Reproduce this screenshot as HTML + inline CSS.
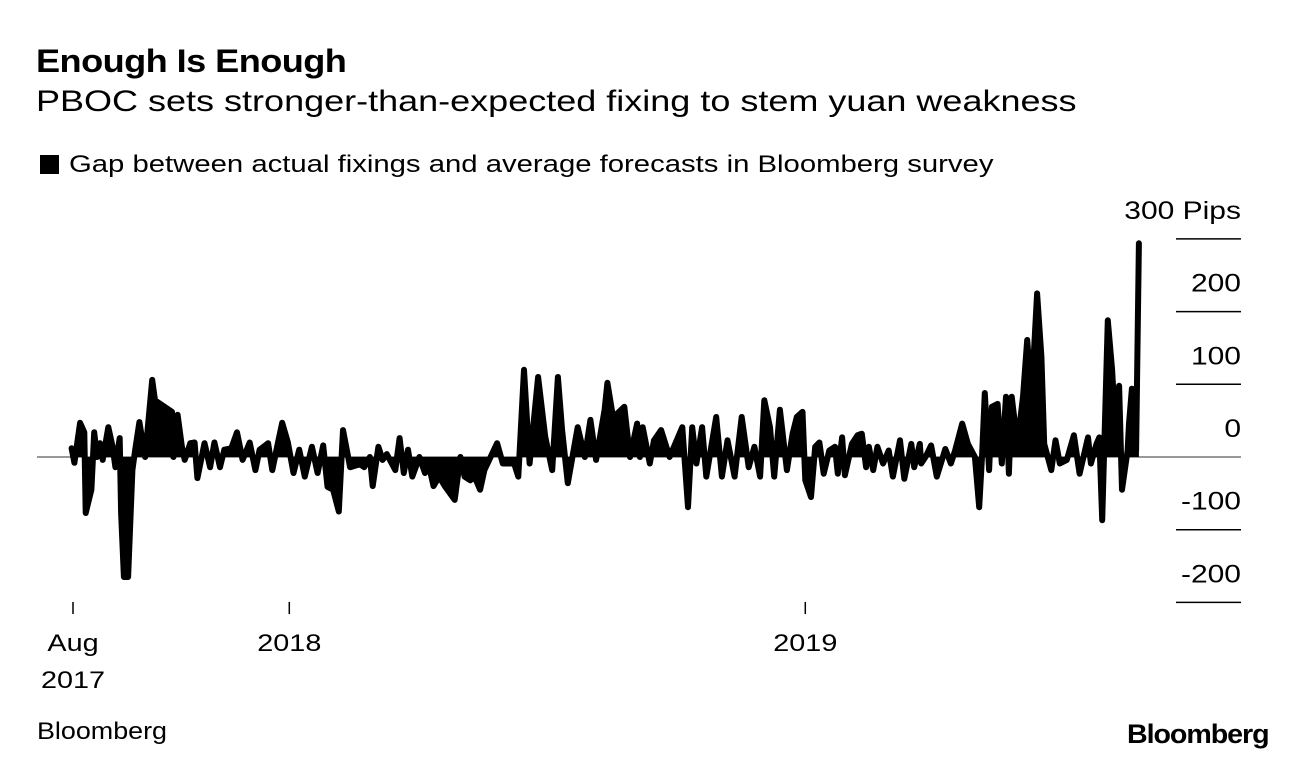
<!DOCTYPE html>
<html><head><meta charset="utf-8"><style>
body{margin:0;width:1296px;height:762px;background:#fff;font-family:"Liberation Sans",Arial,sans-serif;overflow:hidden;position:relative;color:#000}
.t{position:absolute;white-space:nowrap;transform-origin:0 0}
</style></head><body>
<div class="t" style="left:36px;top:43px;font-size:32px;font-weight:bold;letter-spacing:-0.5px;transform:scaleX(1.13)">Enough Is Enough</div>
<div class="t" style="left:36px;top:85px;font-size:30px;transform:scaleX(1.2)">PBOC sets stronger-than-expected fixing to stem yuan weakness</div>
<div class="t" style="left:40px;top:151px;font-size:24px"><span style="display:inline-block;width:19px;height:19px;background:#000;vertical-align:-2px;margin-right:10px"></span><span style="display:inline-block;transform:scaleX(1.22);transform-origin:0 0">Gap between actual fixings and average forecasts in Bloomberg survey</span></div>
<svg id="chart" width="1296" height="762" style="position:absolute;left:0;top:0"></svg>
<div class="t" style="left:37px;top:718px;font-size:24px;transform:scaleX(1.12)">Bloomberg</div>
<div class="t" style="left:1127px;top:719px;font-size:27px;font-weight:bold;letter-spacing:-1px;transform:scaleX(1.06)">Bloomberg</div>
<script>
const days=[-1,1,5,8,9,13,15,17,19,21,25,28,30,33,34,36,39,42,44,47,51,56,58,70,71,74,77,79,83,86,88,93,97,100,104,107,112,116,120,125,129,132,138,141,145,148,152,156,160,164,169,173,177,180,184,188,191,196,203,206,210,212,216,219,222,228,231,234,237,240,245,249,252,255,259,263,270,274,277,281,284,288,291,300,304,312,315,319,323,329,334,339,343,346,350,357,362,366,370,376,378,382,385,390,394,399,401,403,408,411,416,422,431,435,438,441,445,448,455,459,463,468,473,478,482,486,489,493,496,500,505,509,512,516,518,522,525,528,531,535,539,541,544,546,551,555,558,561,563,566,569,573,577,580,585,588,593,595,599,600,603,607,611,617,621,624,629,633,638,641,643,645,648,650,654,657,660,662,664,668,672,675,678,682,685,687,692,695,698,703,708,712,718,720,724,726,728,732,735,738,740,742,746,747,749,752,754];
const gaps=[12,-8,47,34,-77,-45,34,0,19,-4,41,14,-14,26,-77,-165,-165,-18,10,48,0,106,78,62,0,58,14,-4,19,20,-29,19,-14,20,-14,10,12,34,-4,20,-18,10,19,-18,20,47,20,-22,10,-27,14,-22,16,-41,-45,-75,37,-14,-10,-14,0,-40,14,-4,4,-18,26,-22,10,-27,0,-22,-14,-40,-27,-40,-59,0,-27,-32,-27,-45,-18,19,-9,-9,-27,120,-9,110,28,-18,110,37,-36,41,0,51,-4,65,102,55,60,69,0,46,0,41,-9,23,37,0,41,-69,41,-9,41,-27,55,-27,23,-27,55,-14,14,-27,78,41,-27,65,-18,32,55,62,-32,-55,14,20,-23,9,14,-23,27,-25,18,30,32,-14,14,-18,14,-9,9,-27,23,-30,18,-14,18,-9,0,16,-27,11,-9,9,46,18,0,-69,0,88,-18,69,73,-9,83,-23,83,18,83,161,83,225,138,18,-18,23,-9,-4,30,-23,27,-9,18,27,-87,188,120,18,98,-45,9,46,94,9,294];
const yTicks=[300,200,100,0,-100,-200];
const yLabels=["300 Pips","200","100","0","-100","-200"];
const xTickDays=[0,153,518];
const xTickLabels=[["Aug","2017"],["2018"],["2019"]];
const NS="http://www.w3.org/2000/svg";
const svg=document.getElementById('chart');
const xS=d=>73+d*1.4137;
const yS=v=>457-v*0.727;
function mk(tag,attrs){const e=document.createElementNS(NS,tag);for(const k in attrs)e.setAttribute(k,attrs[k]);svg.appendChild(e);return e;}
yTicks.forEach((t,i)=>{
  const l=mk('line',{x1:t===0?37:1176,x2:1241,y1:yS(t),y2:yS(t),stroke:t===0?'#777':'#000','stroke-width':1.5});
  
  
  const tx=mk('text',{x:0,y:0,transform:'translate(1241,'+(yS(t)-20)+') scale(1.2,1)','text-anchor':'end','font-size':25,'font-family':'Liberation Sans, sans-serif'});
  tx.textContent=yLabels[i];
  
  
});
let d='M'+xS(days[0])+','+yS(0);
days.forEach((dd,i)=>{d+=' L'+xS(dd).toFixed(1)+','+yS(gaps[i]).toFixed(1);});
d+=' L'+xS(days[days.length-1])+','+yS(0)+'Z';
const area=mk('path',{d:d,fill:'#000'});


const line=mk('polyline',{points:days.map((dd,i)=>xS(dd).toFixed(1)+','+yS(gaps[i]).toFixed(1)).join(' '),fill:'none',stroke:'#000','stroke-width':6,'stroke-linejoin':'round','stroke-linecap':'round'});


xTickDays.forEach((dd,i)=>{
  const l=mk('line',{x1:xS(dd),x2:xS(dd),y1:602,y2:614,stroke:'#000','stroke-width':1.5});
  
  
  xTickLabels[i].forEach((s,j)=>{
    const tx=mk('text',{x:0,y:0,transform:'translate('+xS(dd)+','+(651+j*37)+') scale(1.2,1)','text-anchor':'middle','font-size':24,'font-family':'Liberation Sans, sans-serif'});
    tx.textContent=s;
    
    
  });
});
</script>
</body></html>
